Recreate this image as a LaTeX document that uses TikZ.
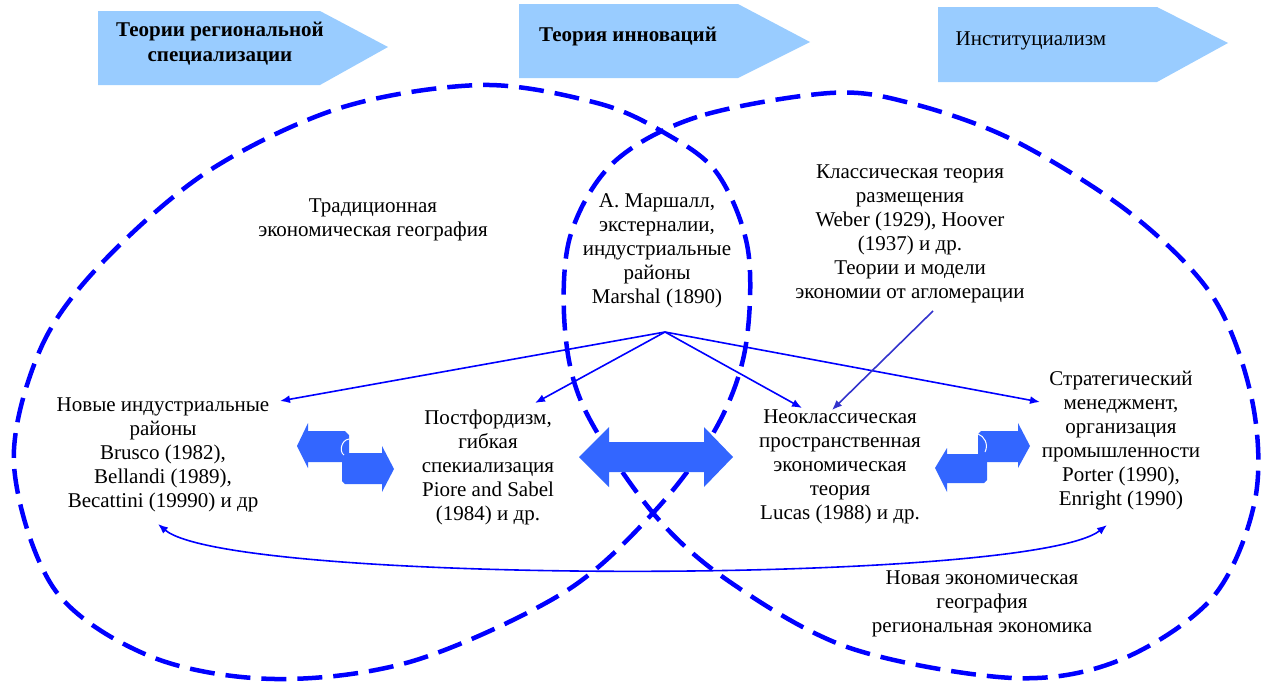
\documentclass[tikz,border=0pt]{standalone}
\usepackage{fontspec}
\setmainfont{Liberation Serif}
\newfontfamily\tnr{Liberation Serif}
\usetikzlibrary{arrows.meta}
\definecolor{hdr}{RGB}{153,204,255}
\definecolor{blk}{RGB}{51,102,255}
\definecolor{dsh}{RGB}{0,0,255}
\definecolor{conB}{RGB}{51,51,204}
\begin{document}
\begin{tikzpicture}[x=1pt,y=-1pt,
  txt/.style={align=center, inner sep=0pt, font=\tnr\fontsize{21}{24}\selectfont},
  hdrtxt/.style={align=center, inner sep=0pt, font=\tnr\fontsize{21}{25}\selectfont\bfseries},
  hdrplain/.style={align=center, inner sep=0pt, font=\tnr\fontsize{21}{25}\selectfont},
  loopline/.style={draw=dsh, line width=4.5pt, dash pattern=on 25pt off 11pt},
  conn/.style={draw=dsh, line width=1.6pt, -{Latex[length=10pt,width=8pt]}},
  conn2/.style={draw=conB, line width=1.6pt, -{Latex[length=10pt,width=8pt]}},
  blockarrow/.style={fill=blk},
  headshape/.style={fill=hdr},
  curl/.style={draw=white, line width=1pt}]
\useasboundingbox (0,0) rectangle (1261,683);

% header pentagons
\fill[headshape] (98,11) -- (320,11) -- (388,47) -- (320,85) -- (98,85) -- cycle;
\fill[headshape] (519,4) -- (738,4) -- (810,42) -- (738,78) -- (519,78) -- cycle;
\fill[headshape] (938,7) -- (1157,7) -- (1228,43) -- (1157,82) -- (938,82) -- cycle;
\node[hdrtxt] (h1) at (220,44) {Теории региональной\\специализации};
\node[hdrtxt] (h2) at (628,37) {Теория инноваций};
\node[hdrplain] (h3) at (1031,41) {Институциализм};

% dashed loops
\draw[loopline] plot[smooth cycle, tension=0.55] coordinates {
 (14,465) (40,350) (100,265) (207,172) (340,108) (482,85) (597,103) (663,132)
 (717,173) (748,250) (745,350) (715,430) (653,513) (563,593) (413,661)
 (275,679) (152,657) (55,590)};
\draw[loopline] plot[smooth cycle, tension=0.55] coordinates {
 (830,93) (697,117) (613,163) (570,237) (565,330) (585,410) (653,513)
 (730,582) (850,648) (1013,678) (1120,660) (1213,597) (1255,500)
 (1252,400) (1213,297) (1130,213) (1013,140) (910,103)};

% text nodes
\node[txt] (trad) at (373,220) {Традиционная\\экономическая география};
\node[txt] (marsh) at (657,251) {А. Маршалл,\\экстерналии,\\индустриальные\\районы\\Marshal (1890)};
\node[txt] (class) at (910,234) {Классическая теория\\размещения\\Weber (1929), Hoover\\(1937) и др.\\Теории и модели\\экономии от агломерации};
\node[txt] (nir) at (163,455) {Новые индустриальные\\районы\\Brusco (1982),\\Bellandi (1989),\\Becattini (19990) и др};
\node[txt] (post) at (488,467) {Постфордизм,\\гибкая\\спекиализация\\Piore and Sabel\\(1984) и др.};
\node[txt] (neo) at (840,467) {Неоклассическая\\пространственная\\экономическая\\теория\\Lucas (1988) и др.};
\node[txt] (strat) at (1121,441) {Стратегический\\менеджмент,\\организация\\промышленности\\Porter (1990),\\Enright (1990)};
\node[txt] (neg) at (982,604) {Новая экономическая\\география\\региональная экономика};

% connector points
\coordinate (mo) at (665,332);
\coordinate (t1) at (280,401);
\coordinate (t2) at (535,403);
\coordinate (t3) at (802,408);
\coordinate (t4) at (1040,402);
\coordinate (c0) at (933,311);
\coordinate (c1) at (832,410);
\coordinate (e1) at (158,524);
\coordinate (e2) at (1107,525);

\draw[conn] (mo) -- (t1);
\draw[conn] (mo) -- (t2);
\draw[conn] (mo) -- (t3);
\draw[conn] (mo) -- (t4);
\draw[conn2] (c0) -- (c1);
\draw[draw=dsh, line width=1.6pt, {Latex[length=10pt,width=8pt]}-{Latex[length=10pt,width=8pt]}]
  (e1) .. controls (230,585) and (1030,585) .. (e2);

% block arrows
\fill[blockarrow] (579,457) -- (609,427) -- (609,442) -- (704,442) -- (704,427) -- (733,457)
  -- (704,487) -- (704,472) -- (609,472) -- (609,487) -- cycle;
% left pair
\fill[blockarrow] (297,446) -- (308,423) -- (308,431) -- (345,431) -- (349,435) -- (349,462)
  -- (308,462) -- (308,468) -- cycle;
\fill[blockarrow] (342,456) -- (345,453) -- (382,453) -- (382,446) -- (394,469) -- (382,492)
  -- (382,484) -- (345,484) -- (342,481) -- cycle;
\draw[curl] (349,439) .. controls (341,440) and (339,452) .. (344,455);
% right pair
\fill[blockarrow] (978,434) -- (981,431) -- (1018,431) -- (1018,423) -- (1030,446) -- (1018,468)
  -- (1018,462) -- (978,462) -- cycle;
\fill[blockarrow] (935,468) -- (947,448) -- (947,454) -- (987,454) -- (987,480) -- (984,483)
  -- (947,483) -- (947,492) -- cycle;
\draw[curl] (978,434) .. controls (984,436) and (989,444) .. (985,452);
\end{tikzpicture}
\end{document}
